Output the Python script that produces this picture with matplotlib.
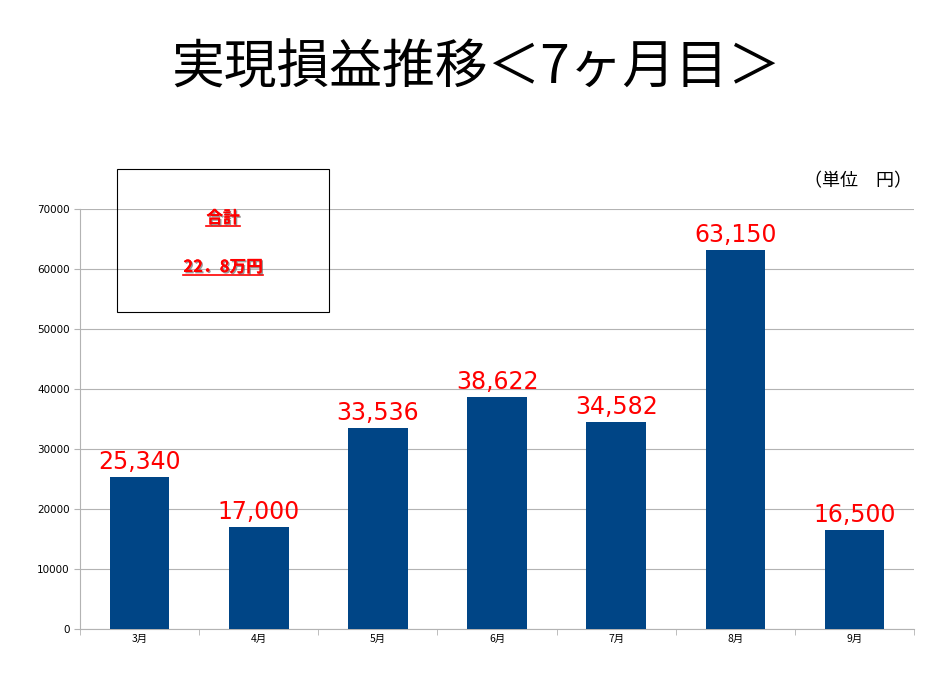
import matplotlib
matplotlib.use("Agg")
import matplotlib.pyplot as plt
import matplotlib.patheffects as pe
import numpy as np

plt.rcParams["font.family"] = "Noto Sans CJK JP"

months = ["3月", "4月", "5月", "6月", "7月", "8月", "9月"]
values = [25340, 17000, 33536, 38622, 34582, 63150, 16500]
yticks = [0, 10000, 20000, 30000, 40000, 50000, 60000, 70000]

fig = plt.figure(figsize=(9.52, 6.78), dpi=100)
ax = fig.add_axes([80/952, 1-629/678, 834/952, 420/678])
x = np.arange(len(months))
ax.bar(x, values, width=0.5, color="#004586", zorder=3)
for xi, v in zip(x, values):
    ax.text(xi, v + 500, f"{v:,}", ha="center", va="bottom", color="#ff0000", fontsize=17, fontfamily="DejaVu Sans")
ax.set_xlim(-0.5, len(months) - 0.5)
ax.set_ylim(0, 70000)
ax.set_yticks(yticks)
ax.set_yticklabels([str(t) for t in yticks], fontsize=7.5, fontfamily="DejaVu Sans")
ax.set_xticks(x)
ax.set_xticklabels(months, fontsize=7.5)
ax.set_xticks(np.arange(-0.5, len(months)), minor=True)
ax.tick_params(axis="x", which="major", length=0)
ax.tick_params(axis="x", which="minor", length=4, color="#b3b3b3")
ax.tick_params(axis="y", length=4, color="#b3b3b3")
ax.grid(axis="y", color="#b3b3b3", linewidth=0.8, zorder=0)
for s in ["top", "right"]:
    ax.spines[s].set_visible(False)
for s in ["left", "bottom"]:
    ax.spines[s].set_color("#b3b3b3")

fig.text(0.5, 1-68/678, "実現損益推移＜7ヶ月目＞", ha="center", va="center", fontsize=38)
fig.text(912/952, 1-181/678, "（単位　円）", ha="right", va="center", fontsize=13)

box = plt.Rectangle((117/952, 1-312/678), 212/952, 143/678, transform=fig.transFigure,
                    fill=False, edgecolor="black", linewidth=0.8)
fig.patches.append(box)
shadow = [pe.withSimplePatchShadow(offset=(1, -1), shadow_rgbFace="#555555", alpha=0.6), pe.Normal()]
for txt, yy in [("合計", 218), ("22．8万円", 267)]:
    t = fig.text(223/952, 1-yy/678, txt, ha="center", va="center", fontsize=12,
                 fontweight="bold", color="#ff0000", path_effects=shadow)
fig.canvas.draw()
r = fig.canvas.get_renderer()
for txt, yy in [("合計", 218), ("22．8万円", 267)]:
    pass
for t in fig.texts[2:]:
    bb = t.get_window_extent(r).transformed(fig.transFigure.inverted())
    fig.add_artist(plt.Line2D([bb.x0, bb.x1], [bb.y0 + 0.002, bb.y0 + 0.002], transform=fig.transFigure,
                              color="#ff0000", linewidth=1.2))
fig.savefig("out.png", dpi=100)
